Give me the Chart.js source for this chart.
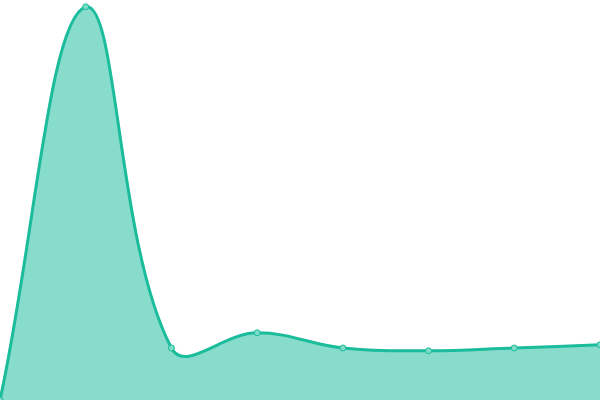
<!DOCTYPE html>
<html>
<head>
<meta charset="utf-8">
<script src="https://cdn.jsdelivr.net/npm/chart.js@4"></script>
<style>
  html, body { margin: 0; padding: 0; background: #fff; }
  #wrap { width: 600px; height: 400px; }
</style>
</head>
<body>
<div id="wrap"><canvas id="chart"></canvas></div>
<script>
// data
const labels = ['1', '2', '3', '4', '5', '6', '7', '8'];
const values = [0, 98.3, 13, 16.8, 13, 12.3, 13, 13.8];

const ctx = document.getElementById('chart').getContext('2d');

new Chart(ctx, {
    type: 'line',
    data: {
        labels: labels,
        datasets: [{
            data: values,
            fill: true,
            tension: 0.4,
            borderColor: '#1abc9c',
            borderWidth: 3,
            backgroundColor: 'rgba(26, 188, 156, 0.52)',
            pointRadius: 3,
            pointBorderWidth: 1,
            pointBackgroundColor: '#7ddcc6',
            pointBorderColor: '#1abc9c'
        }]
    },
    options: {
        responsive: true,
        maintainAspectRatio: false,
        animation: false,
        layout: { autoPadding: false, padding: 0 },
        plugins: {
            legend: { display: false },
            tooltip: { enabled: false }
        },
        scales: {
            x: { display: false },
            y: { display: false, min: 0, max: 100 }
        }
    }
});
</script>
</body>
</html>
